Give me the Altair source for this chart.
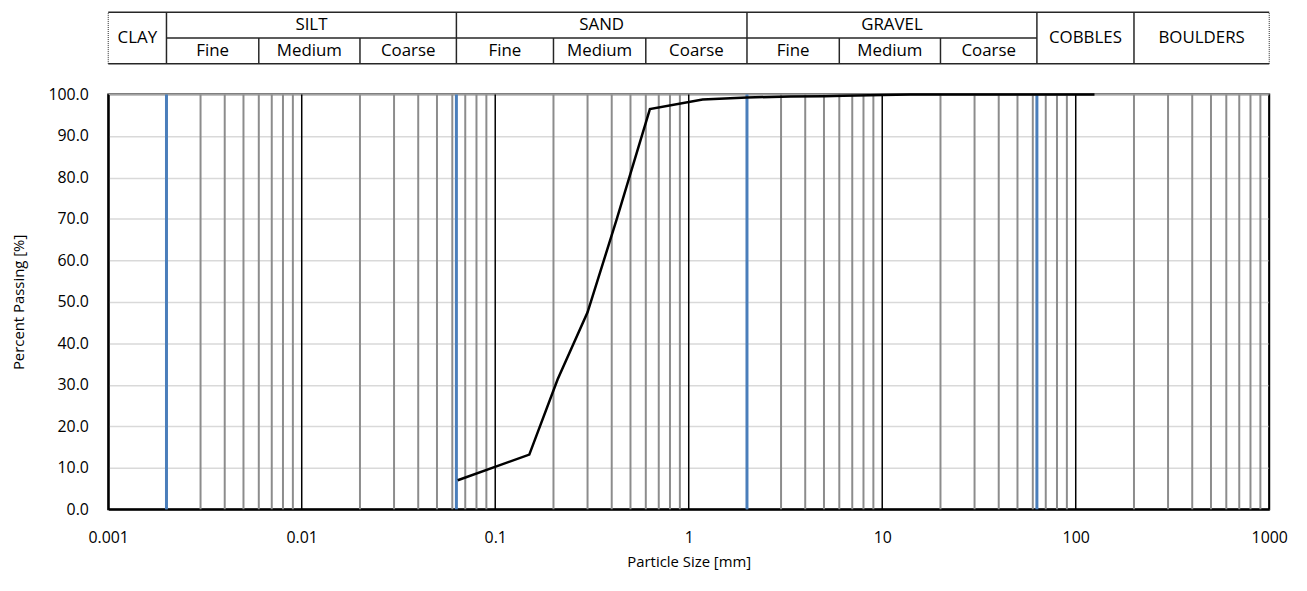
import altair as alt
import pandas as pd

FONT = "Open Sans"

# ---- grading curve ----
sizes = [0.064, 0.15, 0.21, 0.30, 0.425, 0.63, 1.18, 2.0, 3.35, 5.0, 6.3, 10.0,
         14.0, 20.0, 28.0, 37.5, 50.0, 63.0, 75.0, 90.0, 125.0]
passing = [7.0, 13.2, 31.3, 47.5, 70.0, 96.5, 98.8, 99.3, 99.5, 99.6, 99.7, 99.9,
           100.0, 100.0, 100.0, 100.0, 100.0, 100.0, 100.0, 100.0, 100.0]

# ---- grid lines ----
decade_starts = [0.001, 0.01, 0.1, 1, 10, 100]
minor_mult = [2, 3, 4, 5, 6, 7, 8, 9]
major_lines = [0.01, 0.1, 1, 10, 100, 1000]
blue_lines = [0.002, 0.063, 2, 63]
x_ticks = [0.001, 0.01, 0.1, 1, 10, 100, 1000]
y_ticks = [0, 10, 20, 30, 40, 50, 60, 70, 80, 90, 100]

# ---- classification table ----
major_names = ["CLAY", "SILT", "SAND", "GRAVEL", "COBBLES", "BOULDERS"]
major_lo = [0.001, 0.002, 0.063, 2, 63, 200]
major_hi = [0.002, 0.063, 2, 63, 200, 1000]
major_full = [True, False, False, False, True, True]
sub_names = ["Fine", "Medium", "Coarse"] * 3
sub_lo = [0.002, 0.006, 0.02, 0.063, 0.2, 0.6, 2, 6, 20]
sub_hi = [0.006, 0.02, 0.063, 0.2, 0.6, 2, 6, 20, 63]
full_dividers = [0.002, 0.063, 2, 63, 200]
half_dividers = [0.006, 0.02, 0.2, 0.6, 6, 20]
outer_edges = [0.001, 1000]

W, H = 1170, 418
xscale = alt.Scale(type="log", domain=[0.001, 1000])

# ---------------- table ----------------
tscale_y = alt.Scale(domain=[0, 2])
major_df = pd.DataFrame({"name": major_names, "lo": major_lo, "hi": major_hi,
                         "row": [1.0 if f else 1.5 for f in major_full]})
sub_df = pd.DataFrame({"name": sub_names, "lo": sub_lo, "hi": sub_hi, "row": [0.5] * len(sub_names)})
labels_df = pd.concat([major_df, sub_df], ignore_index=True)

vfull = pd.DataFrame({"x": full_dividers, "y0": 0, "y1": 2})
vhalf = pd.DataFrame({"x": half_dividers, "y0": 0, "y1": 1})
vouter = pd.DataFrame({"x": outer_edges, "y0": 0, "y1": 2})
hlines = pd.DataFrame({"a": [0.001, 0.001, 0.002], "b": [1000, 1000, 63], "y": [0, 2, 1]})

line_color = "#262626"
t_v = alt.Chart(pd.concat([vfull, vhalf])).mark_rule(color=line_color, strokeWidth=1.5).encode(
    x=alt.X("x:Q", scale=xscale, axis=None),
    y=alt.Y("y0:Q", scale=tscale_y, axis=None), y2="y1:Q")
t_o = alt.Chart(vouter).mark_rule(color=line_color, strokeWidth=1, strokeDash=[1, 1]).encode(
    x=alt.X("x:Q", scale=xscale, axis=None),
    y=alt.Y("y0:Q", scale=tscale_y, axis=None), y2="y1:Q")
t_h = alt.Chart(hlines).mark_rule(color=line_color, strokeWidth=1.5).encode(
    x=alt.X("a:Q", scale=xscale, axis=None), x2="b:Q",
    y=alt.Y("y:Q", scale=tscale_y, axis=None))
t_txt = alt.Chart(labels_df).transform_calculate(xc="sqrt(datum.lo*datum.hi)").mark_text(
    font=FONT, fontSize=17, color="#000", baseline="middle", align="center").encode(
    x=alt.X("xc:Q", scale=xscale, axis=None),
    y=alt.Y("row:Q", scale=tscale_y, axis=None),
    text="name:N")
table = alt.layer(t_h, t_v, t_o, t_txt).properties(
    width=W, height=52, view=alt.ViewBackground(stroke="transparent"))

# ---------------- main plot ----------------
minor_df = pd.DataFrame({"x": [d * m for d in decade_starts for m in minor_mult]})
major_df2 = pd.DataFrame({"x": major_lines})
blue_df = pd.DataFrame({"x": blue_lines})
curve_df = pd.DataFrame({"x": sizes, "y": passing})

yscale = alt.Scale(domain=[0, 100])
xaxis = alt.Axis(values=x_ticks, labelExpr="format(datum.value, '~g')", grid=False, ticks=False,
                 domainColor="#000", domainWidth=2, labelPadding=20, labelFontSize=16,
                 labelColor="#000", labelFont=FONT, title="Particle Size [mm]", titleFont=FONT,
                 titleFontSize=15, titleFontWeight="normal", titleColor="#000", titlePadding=10,
                 labelFlush=False)
yaxis = alt.Axis(values=y_ticks, format=".1f", grid=True, gridColor="#d9d9d9", gridWidth=1.5,
                 ticks=False, domainColor="#000", domainWidth=2, labelPadding=20, labelFontSize=16,
                 labelColor="#000", labelFont=FONT, title="Percent Passing [%]", titleFont=FONT,
                 titleFontSize=15, titleFontWeight="normal", titleColor="#000", titlePadding=22)

minor_l = alt.Chart(minor_df).mark_rule(color="#8c8c8c", strokeWidth=2).encode(
    x=alt.X("x:Q", scale=xscale, axis=xaxis))
major_l = alt.Chart(major_df2).mark_rule(color="#000", strokeWidth=1.5).encode(
    x=alt.X("x:Q", scale=xscale))
blue_l = alt.Chart(blue_df).mark_rule(color="#4a7ebb", strokeWidth=3).encode(
    x=alt.X("x:Q", scale=xscale))
curve = alt.Chart(curve_df).mark_line(color="#000", strokeWidth=2.5).encode(
    x=alt.X("x:Q", scale=xscale),
    y=alt.Y("y:Q", scale=yscale, axis=yaxis))

main = alt.layer(minor_l, major_l, blue_l, curve).properties(
    width=W, height=H, view=alt.ViewBackground(stroke="#000", strokeWidth=2))

chart = alt.vconcat(table, main, spacing=31, bounds="flush").properties(
    padding={"left": 2, "top": 0, "right": 10, "bottom": 5}
).configure(background="white")

chart.save("out.html", embed_options={"renderer": "svg", "actions": False})
